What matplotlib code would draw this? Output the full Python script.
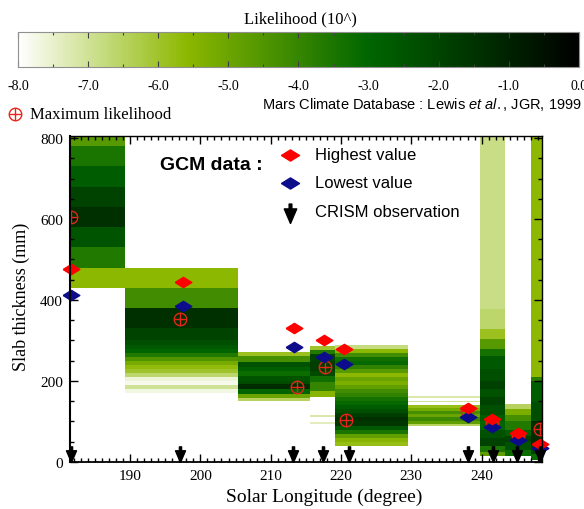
import numpy as np
import matplotlib
matplotlib.use("Agg")
import matplotlib.pyplot as plt
from matplotlib.colors import LinearSegmentedColormap, Normalize
from matplotlib.cm import ScalarMappable
from matplotlib.path import Path
from matplotlib.lines import Line2D
from matplotlib.ticker import MultipleLocator

plt.rcParams['mathtext.fontset'] = 'custom'
plt.rcParams['mathtext.rm'] = 'Liberation Sans'
plt.rcParams['mathtext.it'] = 'Liberation Sans:italic'

# likelihood columns: Ls range, slab thickness bin edges (mm), log10 likelihood per bin
ls_a = [181.3, 189.3]
thick_a = [430, 480, 530, 580, 630, 680, 730, 780, 830]
lik_a = [-5.6, -3.6, -2.5, -1.4, -2.0, -2.7, -3.5, -4.6]

ls_b = [189.3, 205.4]
thick_b = [170, 180, 190, 200, 210, 220, 230, 240, 250, 260, 270, 280, 290, 300, 330, 380, 430, 480]
lik_b = [-7.7, -7.0, -7.8, -7.6, -6.6, -6.0, -5.7, -5.2, -4.5, -3.6, -3.0, -2.6, -2.3, -2.0, -1.4, -4.2, -5.6]

ls_c = [205.4, 215.6]
thick_c = [150, 157, 168, 180, 193, 200, 212, 224, 235, 247, 262, 272]
lik_c = [-6.5, -5.0, -3.0, -1.3, -2.2, -2.5, -3.2, -2.8, -2.4, -4.3, -5.9]

ls_d = [215.6, 219.2]
thick_d = [93, 99, 110, 116, 160, 175, 198, 212, 225, 247, 267, 277, 286]
lik_d = [-7.4, np.nan, -7.2, np.nan, -5.5, -4.0, -3.3, -2.2, -1.8, -2.0, -3.6, -6.0]

ls_e = [219.2, 229.5]
thick_e = [40, 50, 60, 70, 80, 90, 100, 110, 120, 130, 140, 150, 160, 170, 180,
           190, 200, 210, 220, 230, 240, 250, 260, 270, 280, 290]
lik_e = [-5.8, -5.5, -4.8, -3.5, -2.6, -1.6, -1.4, -1.8, -2.3, -2.7, -3.1, -3.4, -3.9,
         -4.2, -4.8, -5.3, -5.0, -5.6, -4.6, -3.9, -3.1, -3.3, -4.2, -5.6, -6.8]

ls_f = [229.5, 239.8]
thick_f = [88, 95, 102, 110, 118, 126, 134, 141, 147, 151, 159, 164]
lik_f = [-6.5, -4.8, -4.1, -5.0, -4.3, -5.2, -5.8, np.nan, -7.0, np.nan, -7.2]

ls_g = [239.8, 243.3]
thick_g = [15, 25, 40, 60, 80, 100, 115, 140, 160, 180, 200, 230, 262, 280, 304, 328, 378, 830]
lik_g = [-4.8, -3.5, -2.0, -2.4, -3.0, -2.7, -2.3, -2.0, -2.4, -1.9, -2.3, -2.6, -3.4, -4.6, -5.9, -6.6, -6.85]

ls_h = [243.3, 247.0]
thick_h = [15, 30, 50, 65, 80, 100, 115, 130, 143]
lik_h = [-3.2, -2.4, -2.0, -2.8, -3.6, -4.3, -5.3, -6.5]

ls_i = [247.0, 248.8]
thick_i = [5, 20, 40, 100, 148, 200, 210, 830]
lik_i = [-3.2, -2.0, -1.3, -2.3, -2.7, -3.8, -5.6]

# GCM highest / lowest values, maximum likelihood, CRISM observations
ls_gcm = [181.6, 197.5, 213.3, 217.6, 220.4, 238.1, 241.5, 245.2, 248.3]
highest = [477, 444, 331, 301, 280, 133, 106, 71, 44]
lowest = [412, 385, 284, 259, 242, 111, 87, 55, 35]
ls_maxlik = [181.6, 197.1, 213.7, 217.7, 220.7, 237.9, 241.5, 245.2, 248.3]
maxlik = [605, 353, 185, 235, 104, 126, 99, 63, 81]
ls_crism = [181.6, 197.1, 213.2, 217.45, 221.2, 238.1, 241.6, 245.1, 248.3]

cb_ticks = [-8.0, -7.0, -6.0, -5.0, -4.0, -3.0, -2.0, -1.0, 0.0]

columns = [(ls_a, thick_a, lik_a), (ls_b, thick_b, lik_b), (ls_c, thick_c, lik_c),
           (ls_d, thick_d, lik_d), (ls_e, thick_e, lik_e), (ls_f, thick_f, lik_f),
           (ls_g, thick_g, lik_g), (ls_h, thick_h, lik_h), (ls_i, thick_i, lik_i)]

cmap = LinearSegmentedColormap.from_list(
    "lik", [(0.0, (1, 1, 1)), (0.3, (0.55, 0.72, 0.0)), (0.625, (0.0, 0.40, 0.0)), (1.0, (0, 0, 0))])
cmap.set_bad((1, 1, 1, 0))
norm = Normalize(-8, 0)

serif = 'Liberation Serif'
sans = 'Liberation Sans'
red = (1.0, 0.0, 0.0)
navy = (0.05, 0.05, 0.55)
ml_red = (0.9, 0.15, 0.1)

diamond = Path([(-1, 0), (0, 0.62), (1, 0), (0, -0.62), (-1, 0)])
arrow = Path([(0, 0), (-0.32, 0.75), (-0.07, 0.75), (-0.07, 1.0), (0.07, 1.0),
              (0.07, 0.75), (0.32, 0.75), (0, 0)])

fig = plt.figure(figsize=(5.84, 5.10), dpi=100)
ax = fig.add_axes([0.1199, 0.0922, 0.8082, 0.6392])

for ls, th, lk in columns:
    z = np.ma.masked_invalid(np.array(lk, dtype=float).reshape(-1, 1))
    ax.pcolormesh(ls, th, z, cmap=cmap, norm=norm, shading='flat', antialiased=False, linewidth=0)

ax.plot(ls_maxlik, maxlik, 'o', ms=9, mfc='none', mec=ml_red, mew=1.0)
ax.plot(ls_maxlik, maxlik, '+', ms=9, mec=ml_red, mew=1.0)
ax.plot(ls_gcm, lowest, marker=diamond, ls='none', ms=12, color=navy, clip_on=False)
ax.plot(ls_gcm, highest, marker=diamond, ls='none', ms=12, color=red, clip_on=False)
ax.plot(ls_crism, np.zeros(len(ls_crism)), marker=arrow, ls='none', ms=22.5, color='k', clip_on=False)

ax.set_xlim(181.45, 248.6)
ax.set_ylim(0, 805)
ax.set_xticks([190, 200, 210, 220, 230, 240])
ax.set_yticks([0, 200, 400, 600, 800])
ax.xaxis.set_minor_locator(MultipleLocator(1))
ax.yaxis.set_minor_locator(MultipleLocator(50))
ax.tick_params(which='both', direction='in', top=True, right=True, width=1.0)
ax.tick_params(which='major', length=6, pad=5)
ax.tick_params(which='minor', length=3)
for lab in ax.get_xticklabels() + ax.get_yticklabels():
    lab.set_fontfamily(serif)
    lab.set_fontsize(11)
for sp in ax.spines.values():
    sp.set_linewidth(1.0)
ax.spines['left'].set_linewidth(1.5)
ax.spines['bottom'].set_linewidth(1.3)

ax.set_xlabel("Solar Longitude (degree)", family=serif, fontsize=14)
ax.set_ylabel("Slab thickness (mm)", family=serif, fontsize=13)
ax.xaxis.set_label_coords(0.538, -0.08)
ax.yaxis.set_label_coords(-0.085, 0.51)

# legend inside the axes
ax.text(0.19, 0.914, "GCM data :", transform=ax.transAxes, family=sans, fontsize=14,
        fontweight='bold', va='center', ha='left')
ax.plot([0.466], [0.942], marker=diamond, ms=13, color=red, transform=ax.transAxes, clip_on=False)
ax.plot([0.466], [0.856], marker=diamond, ms=13, color=navy, transform=ax.transAxes, clip_on=False)
ax.plot([0.466], [0.733], marker=arrow, ms=28, color='k', transform=ax.transAxes, clip_on=False)
ax.text(0.519, 0.942, "Highest value", transform=ax.transAxes, family=sans, fontsize=12, va='center')
ax.text(0.519, 0.856, "Lowest value", transform=ax.transAxes, family=sans, fontsize=12, va='center')
ax.text(0.519, 0.767, "CRISM observation", transform=ax.transAxes, family=sans, fontsize=12, va='center')

# texts above the axes
fig.add_artist(Line2D([0.0257], [0.7745], marker='o', ms=9, mfc='none', mec=ml_red, mew=1.0,
                      transform=fig.transFigure))
fig.add_artist(Line2D([0.0257], [0.7745], marker='+', ms=9, mec=ml_red, mew=1.0,
                      transform=fig.transFigure))
fig.text(0.051, 0.7745, "Maximum likelihood", family=serif, fontsize=12, va='center', ha='left')
fig.text(0.997, 0.796, r"Mars Climate Database : Lewis $\mathit{et\ al.}$, JGR, 1999",
         family=sans, fontsize=10.5, va='center', ha='right')

# colour bar
cax = fig.add_axes([0.0308, 0.8667, 0.9606, 0.0686])
cb = fig.colorbar(ScalarMappable(norm=norm, cmap=cmap), cax=cax, orientation='horizontal')
cb.set_ticks(cb_ticks)
cb.ax.set_xticklabels([f"{t:.1f}" for t in cb_ticks])
cb.ax.xaxis.set_minor_locator(MultipleLocator(0.5))
cb.ax.tick_params(which='both', direction='in', top=True, bottom=True, length=4, width=0.8,
                  color='#404040', labelsize=10, pad=9)
cb.ax.tick_params(which='minor', length=2)
for lab in cb.ax.get_xticklabels():
    lab.set_fontfamily(serif)
cb.outline.set_edgecolor('#909090')
fig.text(0.515, 0.961, "Likelihood (10^)", family=serif, fontsize=12, ha='center', va='center')

fig.savefig("out.png", dpi=100)
